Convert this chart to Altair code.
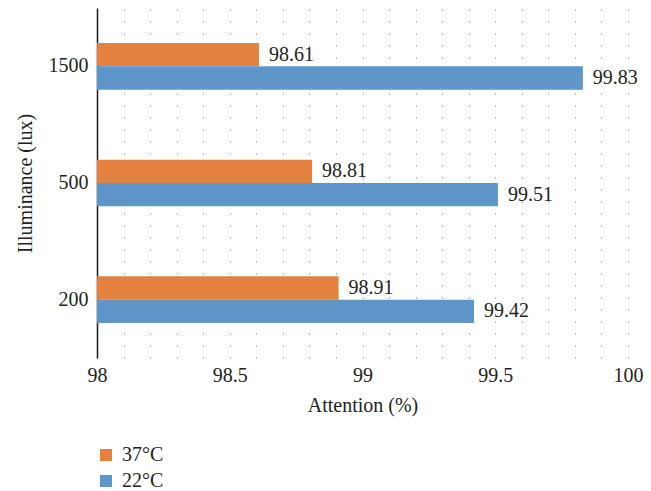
import altair as alt
import pandas as pd

categories = ["1500", "500", "200"]
series = ["37°C", "22°C"]
values_37 = [98.61, 98.81, 98.91]
values_22 = [99.83, 99.51, 99.42]
colors = ["#E4813F", "#5E96C9"]
grid_ticks = [98.0, 98.1, 98.2, 98.3, 98.4, 98.5, 98.6, 98.7, 98.8, 98.9,
              99.0, 99.1, 99.2, 99.3, 99.4, 99.5, 99.6, 99.7, 99.8, 99.9, 100.0]

rows = []
for c, v in zip(categories, values_37):
    rows.append({"illum": c, "series": series[0], "value": v})
for c, v in zip(categories, values_22):
    rows.append({"illum": c, "series": series[1], "value": v})
df = pd.DataFrame(rows)
df["label"] = df["value"].map(lambda v: f"{v:.2f}")

FONT = "Liberation Serif"
TXT = "#231F20"

x_scale = alt.Scale(domain=[98, 100], nice=False, zero=False)
x_enc = alt.X(
    "value:Q",
    scale=x_scale,
    axis=alt.Axis(
        title="Attention (%)",
        values=grid_ticks,
        labelExpr="round(datum.value*10) % 5 == 0 ? toString(round(datum.value*10)/10) : ''",
        labelOverlap=False,
        labelFlush=False,
        ticks=False,
        tickSize=0,
        domain=False,
        grid=True,
        gridColor="#7a7a7a",
        gridWidth=1,
        gridDash=[1, 11],
        labelFont=FONT,
        labelFontSize=20,
        labelColor=TXT,
        labelPadding=7,
        titleFont=FONT,
        titleFontSize=20,
        titleFontWeight="normal",
        titleColor=TXT,
        titlePadding=10,
    ),
)
y_enc = alt.Y(
    "illum:N",
    sort=categories,
    scale=alt.Scale(paddingInner=0.6, paddingOuter=0.3),
    axis=alt.Axis(
        title="Illuminance (lux)",
        ticks=False,
        tickSize=0,
        domain=True,
        domainColor="#1a1a1a",
        domainWidth=1.5,
        grid=False,
        labelFont=FONT,
        labelFontSize=20,
        labelColor=TXT,
        labelPadding=9,
        titleFont=FONT,
        titleFontSize=20,
        titleFontWeight="normal",
        titleColor=TXT,
        titlePadding=13,
    ),
)
yoff = alt.YOffset("series:N", sort=series, scale=alt.Scale(paddingInner=0, paddingOuter=0))

bars = alt.Chart(df).mark_bar(clip=True).encode(
    x=x_enc,
    y=y_enc,
    yOffset=yoff,
    color=alt.Color(
        "series:N",
        scale=alt.Scale(domain=series, range=colors),
        legend=alt.Legend(
            title=None,
            orient="none",
            legendX=-1,
            legendY=437,
            padding=0,
            symbolType="square",
            symbolSize=144,
            symbolStrokeWidth=0,
            labelFont=FONT,
            labelFontSize=20,
            labelColor=TXT,
            labelOffset=6,
            rowPadding=6,
        ),
    ),
)

labels = alt.Chart(df).mark_text(
    align="left", baseline="middle", dx=10, font=FONT, fontSize=20, color=TXT
).encode(
    x=x_enc,
    y=y_enc,
    yOffset=yoff,
    text="label:N",
)

chart = (
    alt.layer(bars, labels)
    .properties(
        width=531,
        height=350,
        autosize=alt.AutoSizeParams(type="none"),
        padding={"left": 97, "top": 8, "right": 23, "bottom": 133},
        background="white",
    )
    .configure_view(stroke=None)
    .configure_axis(labelOverlap=False)
)

chart.save("out.html", embed_options={"renderer": "svg", "actions": False})
